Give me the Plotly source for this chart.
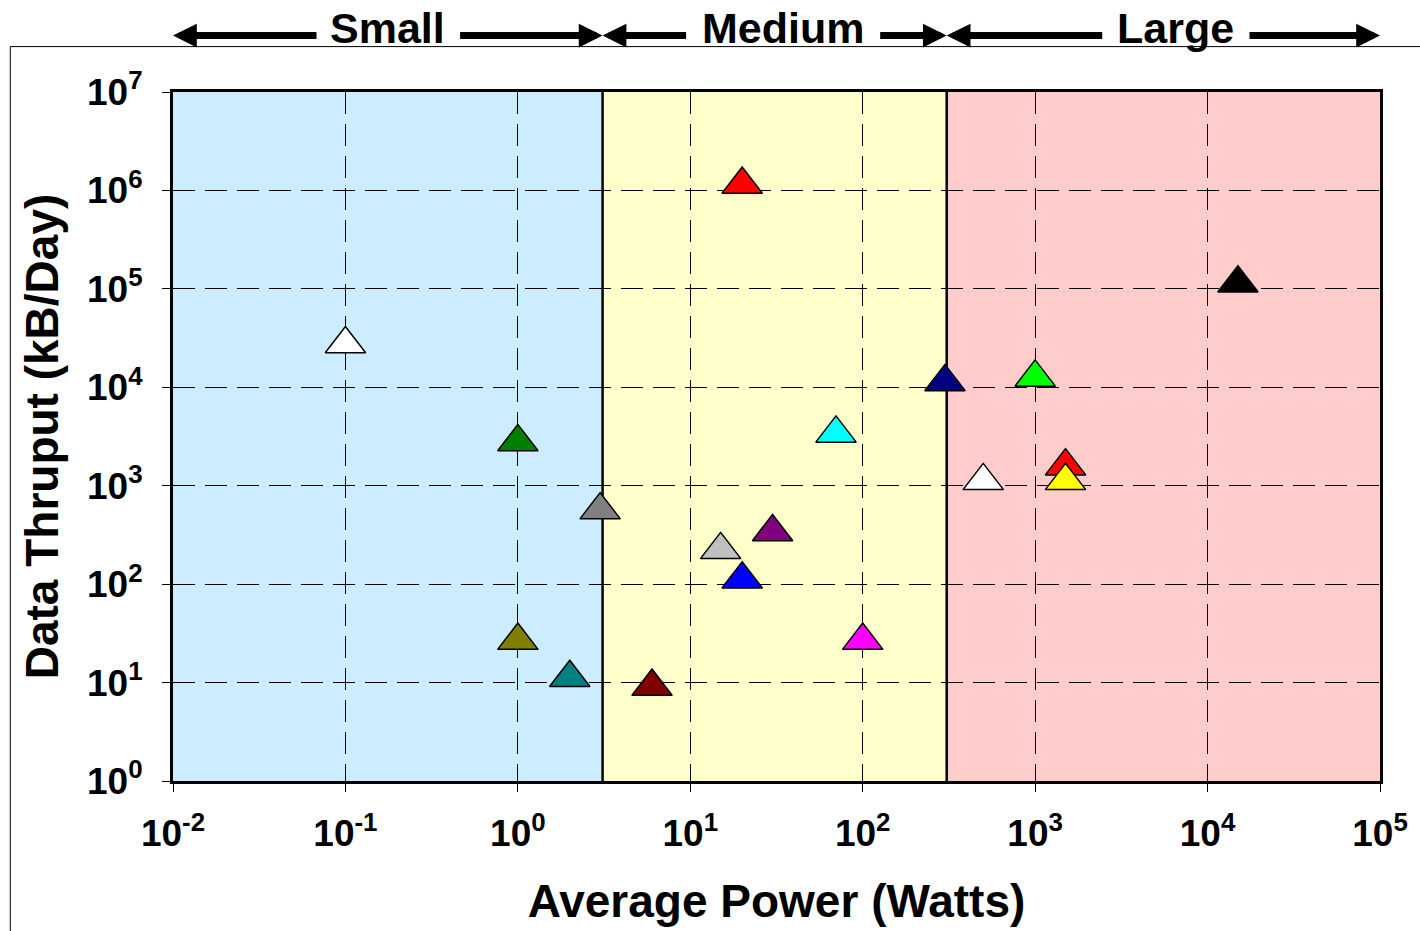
import plotly.graph_objects as go
import math

# ---- data ----
power_w = [0.1, 1, 3, 1, 2, 20, 6, 15, 20, 30, 70, 100, 300, 1000, 500, 1500, 1500, 15000]
thruput_kb = [27500, 2780, 565, 26.7, 11.2, 1.15e6, 9.1, 223, 112, 339, 3400, 26.7,
              11300, 12600, 1120, 1580, 1120, 1.14e5]
marker_colors = ["#FFFFFF", "#008000", "#808080", "#808000", "#008080", "#FF0000",
                 "#800000", "#C0C0C0", "#0000FF", "#800080", "#00FFFF", "#FF00FF",
                 "#000080", "#00FF00", "#FFFFFF", "#FF0000", "#FFFF00", "#000000"]

class_names = ["Small", "Medium", "Large"]
class_bounds = [0.01, 3.1, 307, 1e5]
class_colors = ["#CCECFF", "#FFFFCC", "#FFCCCC"]

x_tickvals = [1e-2, 1e-1, 1e0, 1e1, 1e2, 1e3, 1e4, 1e5]
x_ticktext = ["10<sup>-2</sup>", "10<sup>-1</sup>", "10<sup>0</sup>", "10<sup>1</sup>",
              "10<sup>2</sup>", "10<sup>3</sup>", "10<sup>4</sup>", "10<sup>5</sup>"]
y_tickvals = [1e0, 1e1, 1e2, 1e3, 1e4, 1e5, 1e6, 1e7]
y_ticktext = ["10<sup>0</sup>", "10<sup>1</sup>", "10<sup>2</sup>", "10<sup>3</sup>",
              "10<sup>4</sup>", "10<sup>5</sup>", "10<sup>6</sup>", "10<sup>7</sup>"]

FONT = "Liberation Sans, Arial, sans-serif"

fig = go.Figure()
fig.add_trace(go.Scatter(
    x=power_w, y=thruput_kb, mode="markers",
    marker=dict(symbol="triangle-up", size=35, color=marker_colors,
                line=dict(color="black", width=1.5)),
    showlegend=False, hoverinfo="x+y"))

shapes = []
for i in range(3):
    shapes.append(dict(type="rect", xref="x", yref="paper",
                       x0=class_bounds[i], x1=class_bounds[i + 1], y0=0, y1=1,
                       fillcolor=class_colors[i], line=dict(width=0), layer="below"))
for b in class_bounds[1:3]:
    shapes.append(dict(type="line", xref="x", yref="paper", x0=b, x1=b, y0=0, y1=1,
                       line=dict(color="black", width=2.5), layer="between"))
# outer chart frame (top and left edges)
shapes.append(dict(type="path", xref="paper", yref="paper",
                   path="M -0.1348,-0.3 L -0.1348,1.0659 L 1.05,1.0659",
                   line=dict(color="black", width=1)))

annotations = []
arrow_y = 1.0819
# tail offsets (pixels) for the header arrows: (left arrow, right arrow)
tail_offsets = [(145, -144), (85, -68), (157, -132)]
text_shift = [0, 8, 12]
for i, name in enumerate(class_names):
    lo, hi = math.log10(class_bounds[i]), math.log10(class_bounds[i + 1])
    left_off, right_off = tail_offsets[i]
    annotations.append(dict(x=lo, y=arrow_y, xref="x", yref="paper", text="",
                            showarrow=True, ax=left_off, ay=0, arrowhead=2, arrowsize=0.68,
                            arrowwidth=7, arrowcolor="black", standoff=0))
    annotations.append(dict(x=hi, y=arrow_y, xref="x", yref="paper", text="",
                            showarrow=True, ax=right_off, ay=0, arrowhead=2, arrowsize=0.68,
                            arrowwidth=7, arrowcolor="black", standoff=0))
    annotations.append(dict(x=(lo + hi) / 2, y=1.0925, xref="x", yref="paper",
                            text="<b>%s</b>" % name, showarrow=False, xshift=text_shift[i],
                            xanchor="center", yanchor="middle",
                            font=dict(family=FONT, size=43, color="black")))

axis_common = dict(type="log", ticks="outside", ticklen=8, tickcolor="black", tickwidth=1,
                   showgrid=True, gridcolor="black", gridwidth=1, griddash="22px,10px",
                   showline=True, linewidth=3, linecolor="black", mirror=True,
                   zeroline=False,
                   tickfont=dict(family=FONT, size=37, color="black", weight="bold"))

fig.update_layout(
    width=1420, height=931,
    margin=dict(l=173, r=38, t=92, b=149),
    paper_bgcolor="white", plot_bgcolor="white",
    shapes=shapes, annotations=annotations,
    xaxis=dict(range=[-2, 5], tickvals=x_tickvals, ticktext=x_ticktext,
               ticklabelstandoff=10,
               title=dict(text="Average Power (Watts)", standoff=32,
                          font=dict(family=FONT, size=46, color="black", weight="bold")),
               **axis_common),
    yaxis=dict(range=[0, 7], tickvals=y_tickvals, ticktext=y_ticktext,
               ticklabelstandoff=12,
               title=dict(text="Data Thruput (kB/Day)", standoff=14,
                          font=dict(family=FONT, size=46, color="black", weight="bold")),
               **axis_common),
)

fig.write_html("out.html", config={"displayModeBar": False},
               post_script="document.body.style.margin='0';")
